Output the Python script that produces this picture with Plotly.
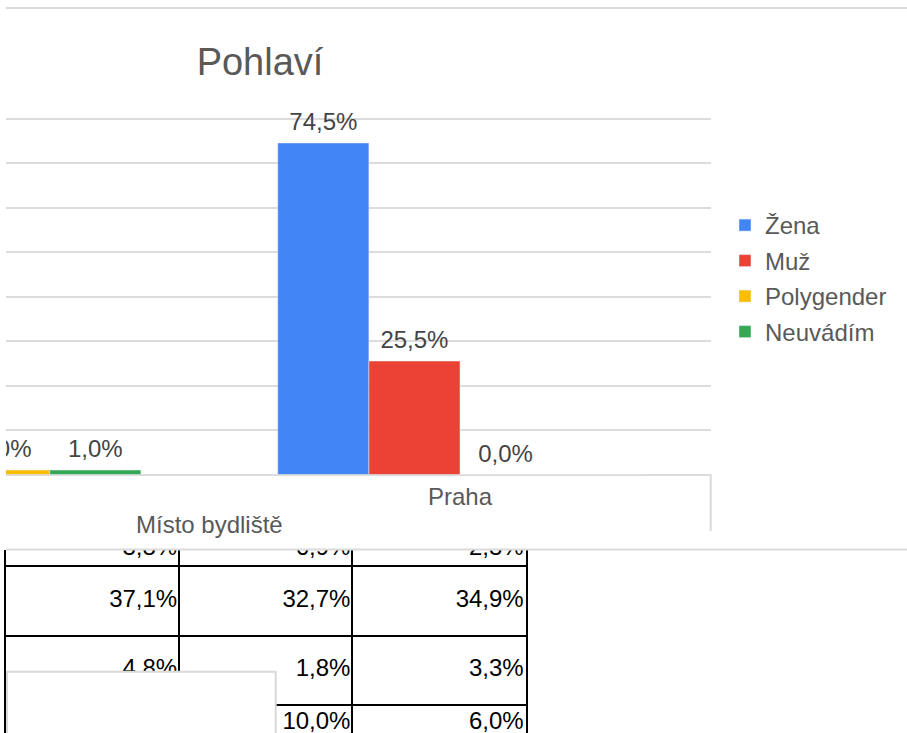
import plotly.graph_objects as go

# data
categories = ["Mimo Prahu", "Praha"]
zena = [70.5, 74.5]
muz = [27.5, 25.5]
polygender = [1.0, 0.0]
neuvadim = [1.0, 0.0]
series_names = ["Žena", "Muž", "Polygender", "Neuvádím"]
series_colors = ["#4285F4", "#EA4335", "#FBBC04", "#34A853"]

# table behind the chart (partly covered)
tbl_col1 = [3.8, 37.1, 4.8, 5.2]
tbl_col2 = [6.9, 32.7, 1.8, 10.0]
tbl_col3 = [2.3, 34.9, 3.3, 6.0]

W, H = 907, 733
FONT = "Liberation Sans, Arial, sans-serif"
GREY_TXT = "#595959"
GRID = "#dcdcdc"
GAP = 0.273


def px(x):
    return x / W


def py(y):
    return 1 - y / H


fig = go.Figure()

series = [zena, muz, polygender, neuvadim]
for name, vals, col in zip(series_names, series, series_colors):
    fig.add_trace(go.Bar(
        x=categories, y=vals, name=name, marker_color=col,
        legendgroup=name, hoverinfo="skip",
    ))

# value labels (only the ones visible in the cropped view)
for name, vals in zip(series_names, series):
    labels = ["%{y:.1f}%" for _ in vals]
    if name in ("Žena", "Muž"):
        labels[0] = ""
    if name == "Neuvádím":
        labels[1] = ""
    fig.add_trace(go.Scatter(
        x=categories, y=vals, mode="markers+text", texttemplate=labels,
        textposition="top center", offsetgroup=name, alignmentgroup="lbl",
        marker=dict(size=9, opacity=0),
        textfont=dict(size=24, color="#444444", family=FONT),
        showlegend=False, hoverinfo="skip",
    ))

# table: row heights in units of a full row
row_h = [0.5, 1, 1, 0.5]
edges = [0]
for h in row_h:
    edges.append(edges[-1] + h)
row_mid = [(a + b) / 2 for a, b in zip(edges[:-1], edges[1:])]

for i, colvals in enumerate([tbl_col1, tbl_col2, tbl_col3]):
    fig.add_trace(go.Scatter(
        x=[i + 1] * len(colvals), y=row_mid, mode="text",
        customdata=colvals, texttemplate="%{customdata:.1f}%\u200a",
        textposition="middle left", offsetgroup="tbl", alignmentgroup="tbl",
        textfont=dict(size=24, color="#000000", family=FONT),
        xaxis="x2", yaxis="y2", showlegend=False, hoverinfo="skip",
    ))

fig.update_layout(
    width=W, height=H,
    margin=dict(l=0, r=0, t=0, b=0),
    paper_bgcolor="white", plot_bgcolor="rgba(0,0,0,0)",
    separators=",.",
    font=dict(family=FONT, color=GREY_TXT, size=24),
    barmode="group", bargap=GAP, bargroupgap=0,
    scattermode="group", scattergap=GAP,
    title=dict(text="Pohlaví", x=px(260), xanchor="center", y=py(62), yanchor="middle",
               font=dict(size=38, color=GREY_TXT, family=FONT)),
    xaxis=dict(domain=[px(6), px(710.7)], range=[0.0945, 1.5], showgrid=False,
               showline=False, zeroline=False, ticks="", ticklabelstandoff=5,
               tickfont=dict(size=24, color=GREY_TXT)),
    yaxis=dict(domain=[py(474.5), py(96.25)], range=[0, 85], dtick=10, tick0=0,
               showticklabels=False, gridcolor=GRID, gridwidth=1.5,
               zeroline=True, zerolinecolor=GRID, zerolinewidth=1.5),
    xaxis2=dict(domain=[px(6), px(525.7)], range=[0, 3], anchor="y2",
                tickvals=[1, 2], showgrid=True, gridcolor="black", gridwidth=2,
                showticklabels=False, zeroline=False, showline=False, ticks=""),
    yaxis2=dict(domain=[0, py(549.5)], range=[2.9, 0.264], anchor="x2",
                tickvals=edges[1:-1], showgrid=True, gridcolor="black", gridwidth=2,
                showline=True, mirror=True, linecolor="black", linewidth=2,
                showticklabels=False, zeroline=False, ticks=""),
    legend=dict(x=px(725), y=py(203), xanchor="left", yanchor="top",
                font=dict(size=24, color=GREY_TXT, family=FONT),
                tracegroupgap=1.3, bgcolor="rgba(0,0,0,0)"),
    showlegend=True,
)

fig.add_annotation(text="Místo bydliště", xref="x", x=0.5, yref="paper", y=py(524),
                   yanchor="middle", showarrow=False,
                   font=dict(size=24, color=GREY_TXT, family=FONT))

line_style = dict(color="#dadada", width=2)
fig.add_shape(type="line", xref="paper", yref="paper", x0=px(6), x1=1, y0=py(8), y1=py(8), line=line_style)
fig.add_shape(type="line", xref="paper", yref="paper", x0=px(6), x1=1, y0=py(549.5), y1=py(549.5), line=line_style)
fig.add_shape(type="line", xref="paper", yref="paper", x0=px(710.7), x1=px(710.7),
              y0=py(474.5), y1=py(531), line=line_style)
fig.add_shape(type="rect", xref="paper", yref="paper", x0=px(7), x1=px(275.7),
              y0=py(671.7), y1=py(760), fillcolor="white", line=dict(color="#d9d9d9", width=2),
              layer="above")

fig.write_html("out.html", config={"displayModeBar": False},
               post_script="document.body.style.margin='0';")
